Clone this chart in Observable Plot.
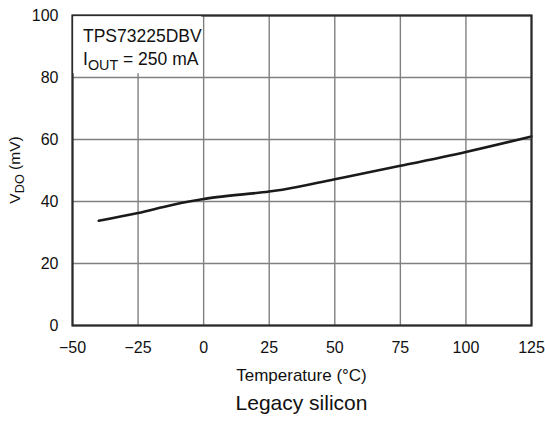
<!DOCTYPE html>
<html>
<head>
<meta charset="utf-8">
<script src="https://cdn.jsdelivr.net/npm/d3@7"></script>
<script src="https://cdn.jsdelivr.net/npm/@observablehq/plot@0.6"></script>
<style>
  body { margin: 0; background: #fff; font-family: Arial, "Liberation Sans", sans-serif; }
  #caption { width: 545px; font-size: 21px; color: #111; position: relative; height: 33px; }
  #caption span { position: absolute; left: 0; top: 1px; transform: translateX(-50%); white-space: nowrap; }
</style>
</head>
<body>
<div id="chart"></div>
<div id="caption"><span id="captext">Legacy silicon</span></div>
<script>
const temps = [-40, -25, -12, 0, 5, 25, 30, 50, 75, 100, 125];
const vdo   = [33.8, 36.3, 38.9, 40.8, 41.4, 43.2, 43.8, 47.2, 51.5, 56.0, 61.0];
const xTicks = [-50, -25, 0, 25, 50, 75, 100, 125];
const yTicks = [0, 20, 40, 60, 80, 100];
const deviceLabel = "TPS73225DBV";
const currentLabel = ["I", "OUT", " = 250 mA"];
const yLabel = ["V", "DO", " (mV)"];
const xLabel = "Temperature (°C)";

const data = temps.map((t, i) => ({t, v: vdo[i]}));

const plot = Plot.plot({
  width: 545,
  height: 390,
  marginLeft: 72,
  marginRight: 14,
  marginTop: 15,
  marginBottom: 65,
  style: {fontFamily: "Arial, 'Liberation Sans', sans-serif", fontSize: "16px", color: "#111", background: "#fff"},
  x: {domain: [-50, 125], ticks: xTicks, tickSize: 0, tickPadding: 16, label: null},
  y: {domain: [0, 100], ticks: yTicks, tickSize: 0, tickPadding: 14, label: null},
  marks: [
    Plot.gridX(xTicks, {stroke: "#808080", strokeOpacity: 1, strokeWidth: 1.4}),
    Plot.gridY(yTicks, {stroke: "#808080", strokeOpacity: 1, strokeWidth: 1.4}),
    Plot.line(data, {x: "t", y: "v", stroke: "#1a1a1a", strokeWidth: 2.6, curve: "monotone-x"}),
    Plot.frame({stroke: "#2a2a2a", strokeWidth: 2.2}),
    Plot.axisX({ticks: xTicks, tickSize: 0, tickPadding: 16, fontSize: 16, label: null}),
    Plot.axisY({ticks: yTicks, tickSize: 0, tickPadding: 14, fontSize: 16, label: null})
  ]
});
document.getElementById("chart").appendChild(plot);

const sx = plot.scale("x"), sy = plot.scale("y");
const svg = d3.select(plot);
const x0 = sx.apply(-50), x1 = sx.apply(125);
const yTop = sy.apply(100), yBot = sy.apply(0);

// white label box behind the annotation (hides the grid lines there)
svg.append("rect")
  .attr("x", x0 + 1.2).attr("y", yTop + 1.2)
  .attr("width", sx.apply(0) - x0 - 3).attr("height", sy.apply(80) - yTop - 5)
  .attr("fill", "#fff");

function addText(parts, x, y, opts) {
  const g = svg.append("text")
    .attr("x", x).attr("y", y)
    .attr("font-size", opts.size)
    .attr("fill", "#111")
    .attr("text-anchor", opts.anchor || "start")
    .attr("transform", opts.rotate ? `rotate(-90 ${x} ${y})` : null);
  parts.forEach((p, i) => {
    const ts = g.append("tspan").text(p);
    if (parts.length === 3 && i === 1) {
      ts.attr("font-size", opts.size * 0.82).attr("dy", opts.size * 0.27);
    } else if (parts.length === 3 && i === 2) {
      ts.attr("dy", -opts.size * 0.27);
    }
  });
  return g;
}
addText([deviceLabel], x0 + 11, yTop + 27, {size: 17.5});
addText(currentLabel, x0 + 11, yTop + 50, {size: 17.5});
addText([xLabel], (x0 + x1) / 2, yBot + 56, {size: 17, anchor: "middle"});
addText(yLabel, 20, (yTop + yBot) / 2, {size: 15.5, anchor: "middle", rotate: true});

document.getElementById("captext").style.left = ((x0 + x1) / 2) + "px";
</script>
</body>
</html>
